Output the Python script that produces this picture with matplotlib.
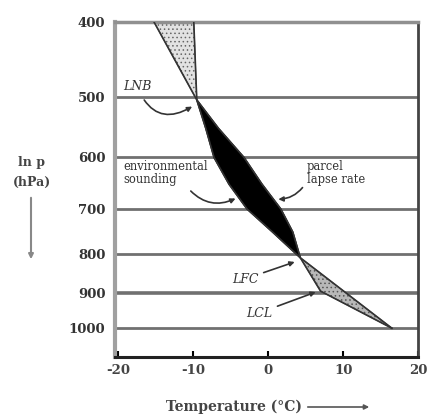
import numpy as np
import matplotlib
matplotlib.use("Agg")
from matplotlib import pyplot as plt
from matplotlib.ticker import FixedLocator, NullLocator

# environment sounding and parcel path (hPa, degC)
p_env = [1000, 900, 810, 750, 700, 650, 600, 550, 505, 400]
t_env = [16.5, 10.4, 4.3, 0.6, -2.8, -5.2, -7.2, -8.3, -9.5, -9.9]
p_par = [1000, 895, 810, 750, 700, 650, 600, 550, 505, 400]
t_par = [16.5, 7.0, 4.3, 3.3, 1.7, -0.8, -3.2, -6.6, -9.5, -15.2]
LFC, LNB = 2, 8

p_lines = [500, 600, 700, 800, 900, 1000]
p_ticks = [400, 500, 600, 700, 800, 900, 1000]
t_ticks = [-20, -10, 0, 10, 20]

plt.rcParams['font.family'] = ['DejaVu Serif']
plt.rcParams['hatch.linewidth'] = 0.6

fig = plt.figure(figsize=(4.33, 4.19), dpi=100)
ax = fig.add_axes([0.2656, 0.148, 0.700, 0.7995])
ax.set_yscale('log')
ax.set_ylim(1090, 400)
ax.set_xlim(-20.4, 20)

for p in p_lines:
    ax.axhline(p, color='#707070', lw=2.0 if p != 900 else 2.6, zorder=1)

# CIN region (surface to LFC)
xs = t_env[:LFC + 1] + t_par[LFC::-1]
ys = p_env[:LFC + 1] + p_par[LFC::-1]
ax.fill(xs, ys, facecolor='#b8b8b8', edgecolor='#555555', hatch='....', lw=0.8, zorder=2)
# CAPE region (LFC to LNB)
xs = t_env[LFC:LNB + 1] + t_par[LNB:LFC - 1:-1]
ys = p_env[LFC:LNB + 1] + p_par[LNB:LFC - 1:-1]
ax.fill(xs, ys, facecolor='black', edgecolor='black', lw=1, zorder=3)
# above LNB
xs = t_env[LNB:] + t_par[:LNB - 1:-1]
ys = p_env[LNB:] + p_par[:LNB - 1:-1]
ax.fill(xs, ys, facecolor='#e2e2e2', edgecolor='#666666', hatch='....', lw=0.8, zorder=2)

ax.plot(t_env, p_env, color='#333333', lw=1.2, zorder=4)
ax.plot(t_par, p_par, color='#333333', lw=1.2, zorder=4)

ax.yaxis.set_major_locator(FixedLocator(p_ticks))
ax.yaxis.set_minor_locator(NullLocator())
ax.set_yticklabels([str(p) for p in p_ticks], fontsize=9.5, fontweight='bold', color='#333333')
ax.tick_params(axis='y', length=0, pad=7)
ax.set_xticks(t_ticks)
ax.set_xticklabels([str(t) for t in t_ticks], fontsize=9.5, fontweight='bold', color='#444444')
ax.tick_params(axis='x', direction='in', length=4, width=1.5, pad=5)

ax.spines['left'].set_color('#a0a0a0')
ax.spines['left'].set_linewidth(3)
ax.spines['top'].set_color('#909090')
ax.spines['top'].set_linewidth(2.5)
ax.spines['bottom'].set_color('#222222')
ax.spines['bottom'].set_linewidth(2.2)
ax.spines['right'].set_color('#444444')
ax.spines['right'].set_linewidth(2)

H = 419
def fp(x, y):
    return (x, H - y)

arr = dict(arrowstyle='-|>', color='#333333', lw=1.2, mutation_scale=7)

ax.annotate('LNB', xy=(t_env[LNB] - 0.3, p_env[LNB] + 8), xycoords='data',
            xytext=fp(137, 86), textcoords='figure pixels', ha='center', va='center',
            fontsize=9, style='italic', color='#333333',
            arrowprops=dict(arr, connectionstyle='arc3,rad=0.6', shrinkA=4))
ax.annotate('environmental\nsounding', xy=(-4.0, 676), xycoords='data',
            xytext=fp(123, 173), textcoords='figure pixels', ha='left', va='center',
            fontsize=8.3, color='#333333', linespacing=1.05,
            arrowprops=dict(arr, connectionstyle='arc3,rad=0.4', relpos=(0.75, 0.0)))
ax.annotate('parcel\nlapse rate', xy=(1.0, 680), xycoords='data',
            xytext=fp(307, 173), textcoords='figure pixels', ha='left', va='center',
            fontsize=8.3, color='#333333', linespacing=1.05,
            arrowprops=dict(arr, connectionstyle='arc3,rad=-0.3', relpos=(0.0, 0.2)))
ax.annotate('LFC', xy=(t_par[LFC] - 0.4, p_par[LFC] + 8), xycoords='data',
            xytext=fp(245, 279), textcoords='figure pixels', ha='center', va='center',
            fontsize=9, style='italic', color='#333333', arrowprops=arr)
ax.annotate('LCL', xy=(t_par[1] - 0.3, p_par[1]), xycoords='data',
            xytext=fp(259, 313), textcoords='figure pixels', ha='center', va='center',
            fontsize=9, style='italic', color='#333333', arrowprops=arr)

fig.text(32 / 433, 1 - 162 / H, 'ln p', ha='center', va='center', fontsize=9,
         fontweight='bold', color='#444444')
fig.text(32 / 433, 1 - 182 / H, '(hPa)', ha='center', va='center', fontsize=9,
         fontweight='bold', color='#444444')
fig.add_artist(matplotlib.patches.FancyArrowPatch(
    fp(31, 195), fp(31, 262), transform=None, arrowstyle='-|>',
    mutation_scale=7, color='#888888', lw=1.5))

fig.text(234 / 433, 1 - 407 / H, 'Temperature (\u00b0C)', ha='center', va='center',
         fontsize=10, fontweight='bold', color='#444444')
fig.add_artist(matplotlib.patches.FancyArrowPatch(
    fp(305, 407), fp(372, 407), transform=None, arrowstyle='-|>',
    mutation_scale=7, color='#555555', lw=1.2))

fig.savefig('out.png', dpi=100)
